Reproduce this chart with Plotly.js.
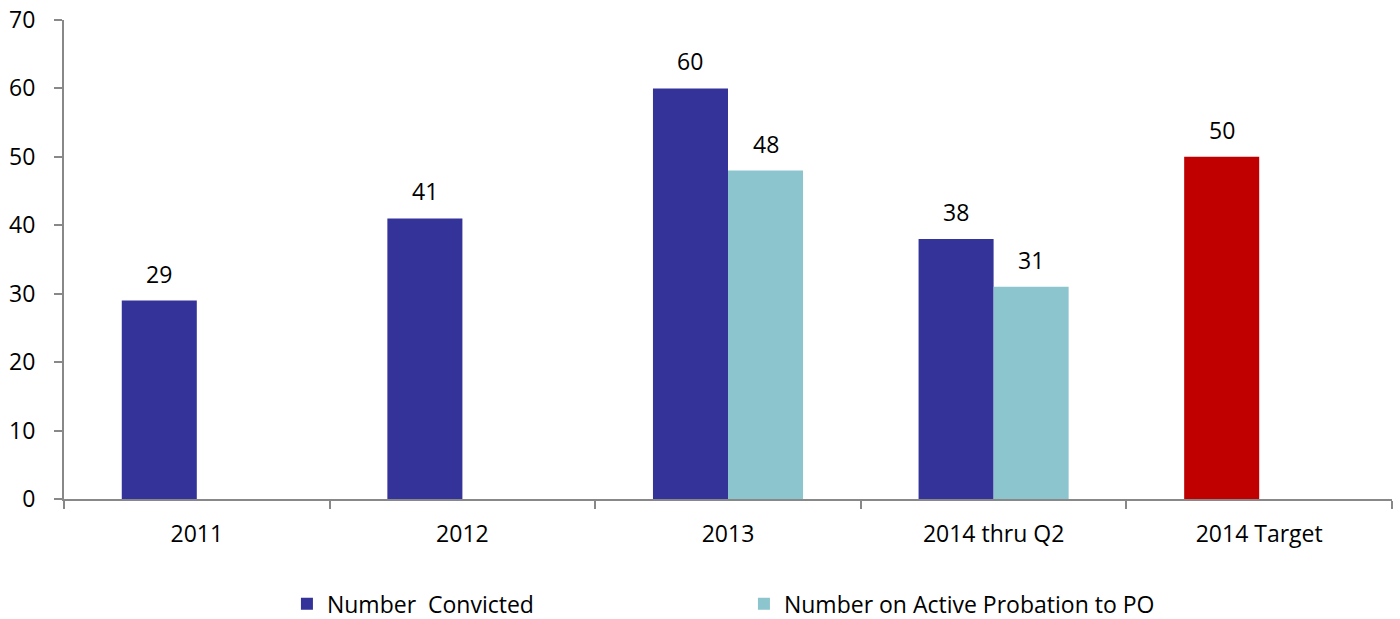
<!DOCTYPE html>
<html>
<head>
<meta charset="utf-8">
<script src="https://cdn.plot.ly/plotly-3.0.1.min.js"></script>
<style>html,body{margin:0;padding:0;background:#fff;}#chart{width:1400px;height:619px;}</style>
</head>
<body>
<div id="chart"></div>
<script>
const categories = ["2011", "2012", "2013", "2014 thru Q2", "2014 Target"];
const seriesNames = ["Number  Convicted", "Number on Active Probation to PO"];
const convicted = [29, 41, 60, 38, 50];
const probation = [null, null, 48, 31, null];
const convictedColors = ["#333399", "#333399", "#333399", "#333399", "#C00000"];
const probationColor = "#8CC5CD";
const yTicks = [0, 10, 20, 30, 40, 50, 60, 70];

const FONT = "Open Sans, Lato, sans-serif";
const FS = 23;
const bargap = 0.435;
const half = (1 - bargap) / 4;

const traces = [
  {type: "bar", name: seriesNames[0], x: categories, y: convicted,
   marker: {color: convictedColors}, hoverinfo: "x+y"},
  {type: "bar", name: seriesNames[1], x: categories, y: probation,
   marker: {color: probationColor}, hoverinfo: "x+y"}
];

const annotations = [];
convicted.forEach((v, i) => {
  if (v !== null) annotations.push({x: i - half, y: v, xref: "x", yref: "y", text: String(v),
    showarrow: false, yanchor: "middle", yshift: 27, font: {family: FONT, size: FS, color: "#000"}});
});
probation.forEach((v, i) => {
  if (v !== null) annotations.push({x: i + half, y: v, xref: "x", yref: "y", text: String(v),
    showarrow: false, yanchor: "middle", yshift: 27, font: {family: FONT, size: FS, color: "#000"}});
});

const layout = {
  width: 1400, height: 619,
  margin: {l: 64, r: 8, t: 20, b: 120, autoexpand: false},
  paper_bgcolor: "#fff", plot_bgcolor: "#fff",
  barmode: "group", bargap: bargap, bargroupgap: 0,
  font: {family: FONT, size: FS, color: "#000"},
  showlegend: true,
  legend: {orientation: "h", x: 0.512, xanchor: "center", y: -0.219, yanchor: "middle",
    entrywidth: 412, entrywidthmode: "pixels", font: {family: FONT, size: FS, color: "#000"},
    traceorder: "normal"},
  xaxis: {type: "category", showline: true, linecolor: "#888888", linewidth: 2,
    ticks: "outside", tickson: "boundaries", ticklen: 8, tickcolor: "#888888", tickwidth: 2,
    showgrid: false, zeroline: false, ticklabelstandoff: 13,
    tickfont: {family: FONT, size: FS, color: "#000"}},
  yaxis: {range: [0, 70], tickvals: yTicks, ticktext: yTicks.map(String),
    showline: true, linecolor: "#888888", linewidth: 2,
    ticks: "outside", ticklen: 8, tickcolor: "#888888", tickwidth: 2,
    showgrid: false, zeroline: false, ticklabelstandoff: 14,
    tickfont: {family: FONT, size: FS, color: "#000"}},
  annotations: annotations
};

Plotly.newPlot("chart", traces, layout, {displayModeBar: false, staticPlot: true});
</script>
</body>
</html>
